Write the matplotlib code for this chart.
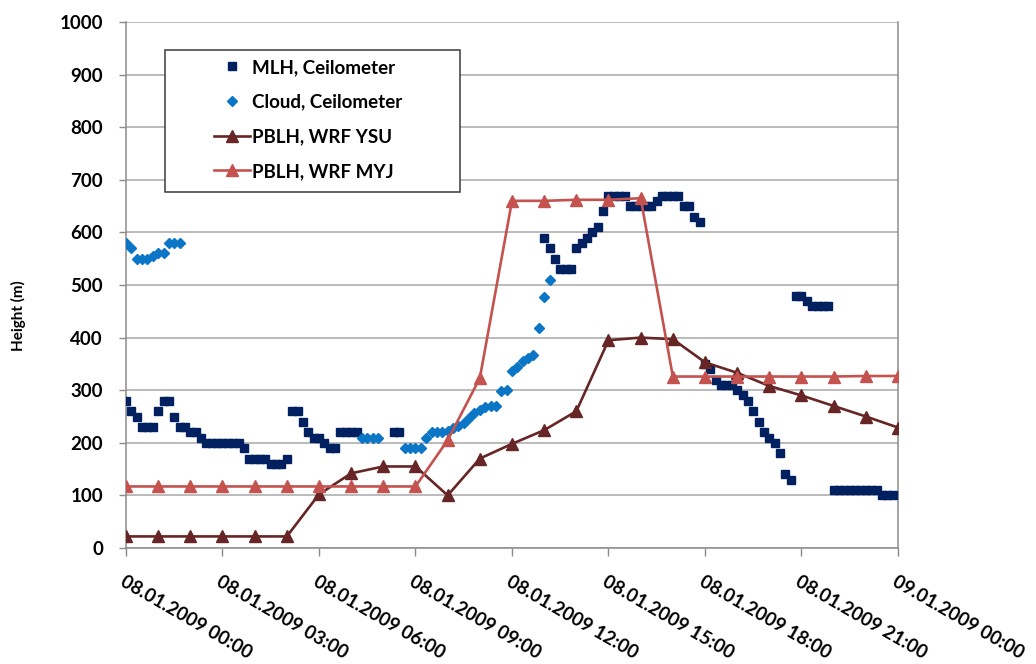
import matplotlib
matplotlib.use('Agg')
import matplotlib.pyplot as plt
import numpy as np
from matplotlib.patches import Rectangle
from matplotlib.transforms import ScaledTranslation

# ---------------- data ----------------
model_hours = [0, 1, 2, 3, 4, 5, 6, 7, 8, 9, 10, 11, 12, 13, 14, 15, 16, 17, 18, 19, 20, 21, 22, 23, 24]
pblh_ysu = [22, 22, 22, 22, 22, 22, 102, 142, 155, 155, 100, 170, 198, 224, 260, 395, 400, 397,
            353, 333, 308, 290, 270, 250, 229]
pblh_myj = [117, 117, 117, 117, 117, 117, 117, 117, 117, 117, 205, 323, 660, 660, 662, 662, 665,
            326, 326, 326, 326, 326, 326, 327, 327]

# ceilometer data, 10-minute steps (index * 10 min after 08.01.2009 00:00)
mlh_step = [0, 1, 2, 3, 4, 5, 6, 7, 8, 9, 10, 11, 12, 13, 14, 15, 16, 17, 18, 19, 20, 21, 22,
            23, 24, 25, 26, 27, 28, 29, 30, 31, 32, 33, 34, 35, 36, 37, 38, 39, 40, 41, 42, 43,
            50, 51,
            78, 79, 80, 81, 82, 83, 84, 85, 86, 87, 88, 89, 90, 91, 92, 93, 94, 95, 96, 97, 98,
            99, 100, 101, 102, 103, 104, 105, 106, 107,
            108, 109, 110, 111, 112, 113, 114, 115, 116, 117, 118, 119, 120, 121, 122, 123, 124,
            125, 126, 127, 128, 129, 130, 131,
            132, 133, 134, 135, 136, 137, 138, 139, 140, 141, 142, 143]
mlh_height = [280, 260, 250, 230, 230, 230, 260, 280, 280, 250, 230, 230, 220, 220, 210, 200,
              200, 200, 200, 200, 200, 200, 190, 170, 170, 170, 170, 160, 160, 160, 170, 260,
              260, 240, 220, 210, 210, 200, 190, 190, 220, 220, 220, 220,
              220, 220,
              590, 570, 550, 530, 530, 530, 570, 580, 590, 600, 610, 640, 670, 670, 670, 670,
              650, 650, 650, 650, 650, 660, 670, 670, 670, 670, 650, 650, 630, 620,
              350, 340, 320, 310, 310, 310, 300, 290, 280, 260, 240, 220, 210, 200, 180, 140, 130,
              480, 480, 470, 460, 460, 460, 460,
              110, 110, 110, 110, 110, 110, 110, 110, 110, 100, 100, 100]

cloud_step = [0, 1, 2, 3, 4, 5, 6, 7, 8, 9, 10,
              44, 45, 46, 47,
              52, 53, 54, 55, 56, 57, 58, 59, 60, 61, 62, 63, 64, 65, 66, 67, 68, 69, 70, 71,
              72, 73, 74, 75, 76, 77, 78, 79]
cloud_height = [580, 570, 550, 550, 550, 555, 560, 560, 580, 580, 580,
                210, 210, 210, 210,
                190, 190, 190, 190, 210, 220, 220, 220, 222, 228, 232, 238, 247, 256, 262, 268,
                270, 270, 298, 300, 337, 345, 355, 361, 367, 418, 477, 509]

tick_hours = [0, 3, 6, 9, 12, 15, 18, 21, 24]
tick_labels = ['08.01.2009 00:00', '08.01.2009 03:00', '08.01.2009 06:00', '08.01.2009 09:00',
               '08.01.2009 12:00', '08.01.2009 15:00', '08.01.2009 18:00', '08.01.2009 21:00',
               '09.01.2009 00:00']
series_names = ['MLH, Ceilometer', 'Cloud, Ceilometer', 'PBLH, WRF YSU', 'PBLH, WRF MYJ']

# ---------------- style ----------------
plt.rcParams['font.family'] = ['Lato', 'DejaVu Sans']
plt.rcParams['font.weight'] = 'bold'

c_mlh = '#002060'
c_cloud = '#0b76c6'
c_ysu = '#672525'
c_myj = '#c4524f'
c_grid = '#a8a8a8'
c_axis = '#8c8c8c'
FS = 13.5

fig = plt.figure(figsize=(10.36, 6.64), dpi=100)
ax = fig.add_axes([126 / 1036, 1 - 548 / 664, (898 - 126) / 1036, (548 - 22) / 664])

mlh_h = np.array(mlh_step) / 6.0
cloud_h = np.array(cloud_step) / 6.0

h_mlh, = ax.plot(mlh_h, mlh_height, linestyle='none', marker='s', markersize=5.6,
                 color=c_mlh, zorder=3)
h_cloud, = ax.plot(cloud_h, cloud_height, linestyle='none', marker='D', markersize=5.0,
                   color=c_cloud, zorder=3)
h_ysu, = ax.plot(model_hours, pblh_ysu, color=c_ysu, linewidth=1.9, marker='^',
                 markersize=8.5, zorder=3)
h_myj, = ax.plot(model_hours, pblh_myj, color=c_myj, linewidth=1.9, marker='^',
                 markersize=8.5, zorder=3)

ax.set_xlim(0, 24)
ax.set_ylim(0, 1000)
ax.set_yticks(np.arange(0, 1001, 100))
ax.set_xticks(tick_hours)
ax.set_xticklabels(tick_labels, rotation=-30, ha='left', va='top',
                   rotation_mode='anchor', fontsize=FS, fontweight='bold')
for lab in ax.get_xticklabels():
    lab.set_transform(lab.get_transform() + ScaledTranslation(-7 / 100, 0, fig.dpi_scale_trans))
ax.tick_params(axis='x', length=6, width=1, color=c_axis, pad=12)
ax.tick_params(axis='y', length=5, width=1, color=c_axis, labelsize=FS, pad=11.5)
for lab in ax.get_yticklabels():
    lab.set_fontweight('bold')

ax.grid(axis='y', color=c_grid, linewidth=1.1, zorder=0)
ax.set_axisbelow(True)
for s in ['left', 'bottom', 'right']:
    ax.spines[s].set_color(c_axis)
    ax.spines[s].set_linewidth(1.1)
ax.spines['top'].set_visible(False)

ax.set_ylabel('Height (m)', fontsize=11, fontweight='bold', va='center')
ax.yaxis.set_label_coords((18 - 126) / 772, (548 - 316) / 526)

# legend box
ax.add_patch(Rectangle(((165 - 126) / 772, (548 - 192) / 526), 295 / 772, 142 / 526,
                       transform=ax.transAxes, facecolor='white', edgecolor='#3a3a3a',
                       linewidth=1.1, zorder=4))
leg = ax.legend([h_mlh, h_cloud, h_ysu, h_myj], series_names, loc='upper left',
                bbox_to_anchor=((214 - 126) / 772, (548 - 59) / 526), frameon=False,
                borderpad=0, handlelength=1.9, handletextpad=0.15, labelspacing=0.94,
                prop={'size': FS, 'weight': 'bold'}, borderaxespad=0)
leg.set_zorder(5)

fig.savefig('out.png', dpi=100)
